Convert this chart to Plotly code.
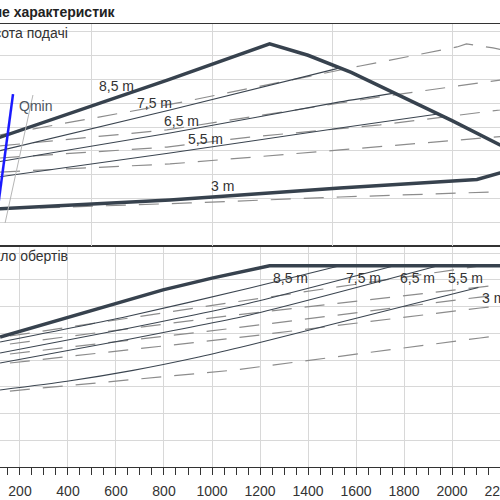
"""
Pump field of characteristics: head (top) and speed (bottom) over flow.
"""

import plotly.graph_objects as go

# --- Theme ---
BG = "#ffffff"
GRID = "#d8d8d8"
FRAME = "#333333"
TEXT = "#333333"
THICK = "#37424e"
THIN = "#3b4550"
DASH = "#8c8c8c"
QMIN_BLUE = "#1a1aff"
FONT = "Liberation Sans, Arial, sans-serif"

# --- Top panel: head [m] over flow ---
Q_HMAX = [110, 820, 1240, 1400, 1580, 1800, 2000, 2200, 2370]
H_HMAX = [4.55, 7.0, 8.5, 8.02, 7.3, 6.25, 5.27, 4.25, 3.45]

Q_HMIN = [110, 825, 1533, 2104, 2200, 2370]
H_HMIN = [1.56, 1.93, 2.44, 2.8, 3.07, 3.45]

Q_H75 = [117, 825, 1533]
H_H75 = [4.01, 5.72, 7.49]
Q_H65 = [117, 825, 1533, 1760]
H_H65 = [3.55, 4.75, 6.06, 6.43]
Q_H55 = [117, 825, 1533, 1942]
H_H55 = [2.91, 3.91, 4.96, 5.55]

# dashed set (second variant)
Q_HD1 = [117, 879, 1617, 2021, 2060, 2171, 2367]
H_HD1 = [4.67, 6.06, 7.57, 8.37, 8.5, 8.33, 7.9]
Q_HD2 = [117, 812, 1129, 1700, 2200, 2283]
H_HD2 = [4.21, 4.88, 5.38, 6.27, 6.98, 7.11]
Q_HD3 = [117, 812, 1158, 1700, 2200, 2283]
H_HD3 = [3.7, 4.16, 4.58, 5.09, 5.72, 5.85]
Q_HD4 = [117, 825, 1533, 2200, 2283]
H_HD4 = [3.11, 3.45, 4.04, 4.58, 4.67]
Q_HD5 = [283, 908, 1533, 2200, 2283]
H_HD5 = [1.6, 1.81, 2.06, 2.27, 2.31]

Q_QMIN = [171, 96]
H_QMIN = [6.39, 0.71]
Q_QMIN2 = [254, 138]
H_QMIN2 = [6.35, 0.97]

TOP_LABELS = ["8,5 m", "7,5 m", "6,5 m", "5,5 m", "3 m"]
TOP_LABEL_Q = [604, 760, 871, 971, 1043]
TOP_LABEL_H = [6.73, 6.03, 5.26, 4.5, 2.52]

# --- Bottom panel: speed [1/min] over flow ---
Q_NMAX = [117, 400, 600, 796, 1000, 1158, 1240, 2370]
N_NMAX = [2430, 2800, 3065, 3310, 3530, 3680, 3760, 3760]
Q_N75 = [117, 637, 1158, 1533]
N_N75 = [2336, 2804, 3346, 3760]
Q_N65 = [117, 637, 1158, 1760]
N_N65 = [2131, 2579, 3065, 3760]
Q_N55 = [117, 637, 1158, 1942]
N_N55 = [1944, 2374, 2841, 3760]
Q_N3 = [117, 396, 671, 950, 1158, 2110]
N_N3 = [1439, 1602, 1806, 2060, 2280, 3355]

Q_ND = [158, 1096, 2117, 2283]
N_ND1 = [2448, 3084, 3757, 3760]
N_ND2 = [2299, 2841, 3364, 3439]
N_ND3 = [2112, 2598, 3177, 3252]
N_ND4 = [1944, 2411, 2972, 3047]
N_ND5 = [1420, 1813, 2411, 2504]

BOTTOM_LABELS = ["8,5 m", "7,5 m", "6,5 m", "5,5 m", "3 m"]
BOTTOM_LABEL_Q = [1325, 1631, 1856, 2056, 2173]
BOTTOM_LABEL_N = [3532, 3532, 3532, 3532, 3159]


def _line(fig, x, y, yaxis, kind, smooth=False):
    style = {
        "thick": dict(color=THICK, width=3.5),
        "thin": dict(color=THIN, width=1.1),
        "dash": dict(color=DASH, width=1.2, dash="20px,13px"),
    }[kind]
    if smooth:
        style.update(shape="spline", smoothing=0.6)
    fig.add_trace(
        go.Scatter(
            x=x, y=y, mode="lines", line=style, xaxis="x2" if yaxis == "y2" else "x",
            yaxis=yaxis, hoverinfo="skip",
        )
    )


fig = go.Figure()

# top panel
for qx, hy in ((Q_HD1, H_HD1), (Q_HD2, H_HD2), (Q_HD3, H_HD3), (Q_HD4, H_HD4), (Q_HD5, H_HD5)):
    _line(fig, qx, hy, "y2", "dash")
for qx, hy in ((Q_H75, H_H75), (Q_H65, H_H65), (Q_H55, H_H55)):
    _line(fig, qx, hy, "y2", "thin", smooth=True)
_line(fig, Q_HMAX, H_HMAX, "y2", "thick")
_line(fig, Q_HMIN, H_HMIN, "y2", "thick")
fig.add_trace(go.Scatter(x=Q_QMIN2, y=H_QMIN2, mode="lines", xaxis="x2", yaxis="y2",
                         line=dict(color="#b5b5b5", width=1), hoverinfo="skip"))
fig.add_trace(go.Scatter(x=Q_QMIN, y=H_QMIN, mode="lines", xaxis="x2", yaxis="y2",
                         line=dict(color=QMIN_BLUE, width=2.5), hoverinfo="skip"))

# bottom panel
for ny in (N_ND1, N_ND2, N_ND3, N_ND4, N_ND5):
    _line(fig, Q_ND, ny, "y", "dash")
for qx, ny in ((Q_N75, N_N75), (Q_N65, N_N65), (Q_N55, N_N55), (Q_N3, N_N3)):
    _line(fig, qx, ny, "y", "thin", smooth=True)
_line(fig, Q_NMAX, N_NMAX, "y", "thick")

annotations = []
for txt, qx, hy in zip(TOP_LABELS, TOP_LABEL_Q, TOP_LABEL_H):
    annotations.append(dict(text=txt, x=qx, y=hy, xref="x2", yref="y2", showarrow=False,
                            font=dict(size=14, color=TEXT)))
annotations.append(dict(text="Qmin", x=188, y=5.89, xref="x2", yref="y2", xanchor="left",
                        showarrow=False, font=dict(size=14, color="#4d5660")))
for txt, qx, ny in zip(BOTTOM_LABELS, BOTTOM_LABEL_Q, BOTTOM_LABEL_N):
    annotations.append(dict(text=txt, x=qx, y=ny, xref="x", yref="y", showarrow=False,
                            font=dict(size=14, color=TEXT)))
annotations += [
    dict(text="<b>Поле характеристик</b>", x=118 / 500, y=(467 - 12) / 443, xref="paper",
         yref="paper", xanchor="right", yanchor="middle", showarrow=False,
         font=dict(size=14, color="#222222")),
    dict(text="Висота подачі", x=70 / 500, y=(467 - 33) / 443, xref="paper", yref="paper",
         xanchor="right", yanchor="middle", showarrow=False, font=dict(size=14, color=TEXT)),
    dict(text="Число обертів", x=70 / 500, y=(467 - 256) / 443, xref="paper", yref="paper",
         xanchor="right", yanchor="middle", showarrow=False, font=dict(size=14, color=TEXT)),
]

SPLIT = 221 / 443

fig.update_layout(
    width=500,
    height=500,
    paper_bgcolor=BG,
    plot_bgcolor=BG,
    font=dict(family=FONT, color=TEXT, size=14),
    showlegend=False,
    margin=dict(l=0, r=0, t=24, b=33, autoexpand=False),
    annotations=annotations,
    xaxis=dict(
        range=[116.7, 2200], anchor="y", tick0=0, dtick=200, showgrid=True, gridcolor=GRID,
        gridwidth=1, zeroline=False, showline=True, linecolor=FRAME, linewidth=1.2, mirror=True,
        ticks="outside", ticklen=7, tickcolor=FRAME, tickwidth=1, automargin=False,
        minor=dict(dtick=50, ticks="outside", ticklen=7, tickcolor=FRAME, showgrid=False),
        tickfont=dict(size=14, color=TEXT), ticklabeloverflow="allow", ticklabelstandoff=4,
    ),
    xaxis2=dict(
        matches="x", anchor="y2", showticklabels=False, showgrid=True, gridcolor=GRID,
        zeroline=False, showline=True, linecolor=FRAME, linewidth=1.2, mirror=True,
        automargin=False,
    ),
    yaxis=dict(
        domain=[0, SPLIT], range=[0, 221 / 26.75 * 500], tick0=0, dtick=500, showgrid=True,
        gridcolor=GRID, zeroline=False, showticklabels=False, showline=False, automargin=False,
    ),
    yaxis2=dict(
        domain=[SPLIT, 1], range=[0, 222 / 23.78], tick0=0, dtick=1, showgrid=True,
        gridcolor=GRID, zeroline=False, showticklabels=False, showline=False, automargin=False,
    ),
)

# drop the browser's default body margin so the 500x500 figure fills the window
POST = (
    "document.body.style.margin='0';document.body.style.overflow='hidden';"
    "var gd=document.getElementById('{plot_id}');"
    "Plotly.relayout(gd,{width:500,height:500});"
)
fig.write_html("out.html", post_script=POST, config={"displayModeBar": False})
